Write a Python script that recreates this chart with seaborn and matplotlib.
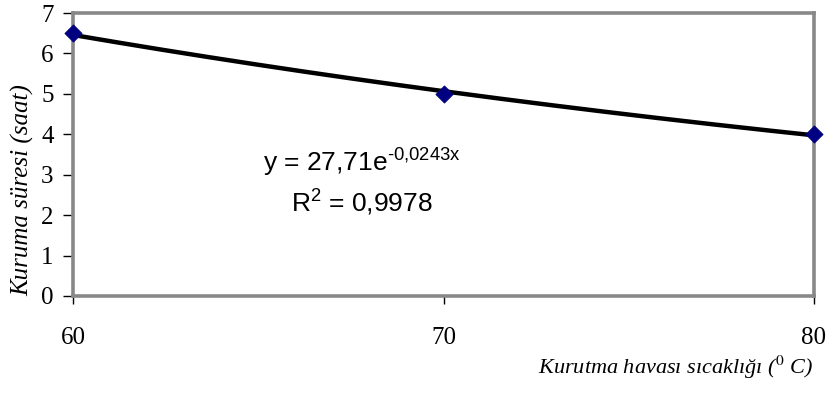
import numpy as np
import pandas as pd
import matplotlib
matplotlib.use("Agg")
import matplotlib.pyplot as plt
import seaborn as sns

# data
temps = [60, 70, 80]
hours = [6.5, 5.0, 4.0]
x_ticks = [60, 70, 80]
y_ticks = [0, 1, 2, 3, 4, 5, 6, 7]

sns.set_theme(style="white")
plt.rcParams['font.family'] = ['Liberation Serif', 'DejaVu Serif']
plt.rcParams['mathtext.fontset'] = 'custom'
plt.rcParams['mathtext.rm'] = 'Liberation Sans'
plt.rcParams['mathtext.it'] = 'Liberation Sans:italic'
plt.rcParams['text.color'] = 'black'
plt.rcParams['xtick.color'] = 'black'
plt.rcParams['ytick.color'] = 'black'
plt.rcParams['xtick.labelcolor'] = 'black'
plt.rcParams['ytick.labelcolor'] = 'black'

df = pd.DataFrame({"temp": temps, "hours": hours})

# exponential trendline fitted to the data
b, ln_a = np.polyfit(df["temp"], np.log(df["hours"]), 1)
xs = np.linspace(min(temps), max(temps), 200)
trend = pd.DataFrame({"temp": xs, "hours": np.exp(ln_a) * np.exp(b * xs)})

fig = plt.figure(figsize=(8.3, 3.94), dpi=100)
ax = fig.add_axes([73/830, 1-296/394, (814-73)/830, (296-13)/394])

sns.lineplot(data=trend, x="temp", y="hours", ax=ax, color="black", lw=3.2, clip_on=False)
sns.scatterplot(data=df, x="temp", y="hours", ax=ax, marker="D", s=75, color="#000080",
                edgecolor="#000080", zorder=5, clip_on=False)

ax.set_xlim(60, 80)
ax.set_ylim(0, 7)
ax.set_xticks(x_ticks)
ax.set_yticks(y_ticks)
ax.set_xlabel("")
ax.set_ylabel("")
ax.tick_params(axis="both", which="major", labelsize=18, direction="out", color="black",
               labelcolor="black", width=1, bottom=True, left=True)
ax.tick_params(axis="y", length=7, pad=7)
ax.tick_params(axis="x", length=6, pad=16)
for s in ax.spines.values():
    s.set_color("#888888")
    s.set_linewidth(2.6)

# equation text
ax.text(0.39, 3.07, "y = 27,71e$^{\\text{-0,0243x}}$", transform=ax.get_yaxis_transform(),
        fontsize=19, family="Liberation Sans", ha="center", va="baseline",
        color="black", math_fontfamily="custom")
ax.text(0.39, 2.08, "R$^{\\text{2}}$ = 0,9978", transform=ax.get_yaxis_transform(),
        fontsize=19, family="Liberation Sans", ha="center", va="baseline",
        color="black", math_fontfamily="custom")

fig.text(23/830, 1-190/394, "Kuruma süresi (saat)", fontsize=18, style="italic",
         rotation=90, ha="center", va="center", color="black")
fig.text(813/830, 1-367/394, "Kurutma havası sıcaklığı ($^{0}$ C)", fontsize=16,
         style="italic", ha="right", va="center", color="black", math_fontfamily="stix")

fig.savefig("out.png", dpi=100)
